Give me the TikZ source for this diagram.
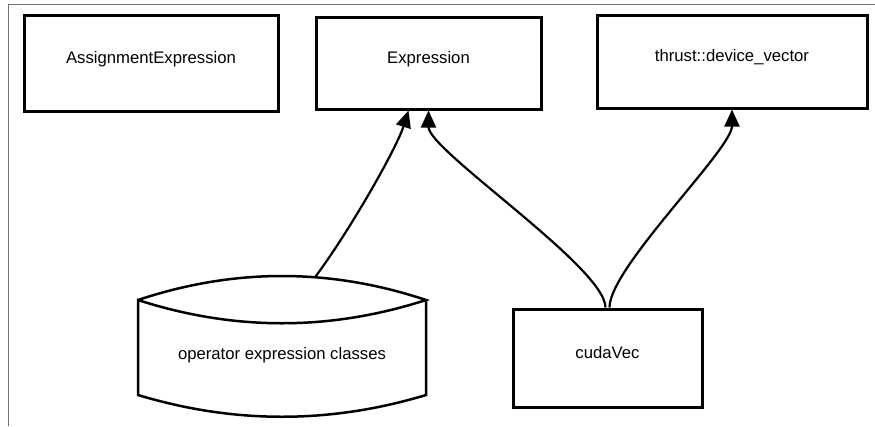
\documentclass[tikz,border=0pt]{standalone}
\usepackage{fontspec}
\setmainfont{Liberation Sans}
\usetikzlibrary{arrows.meta}

\begin{document}
\begin{tikzpicture}[x=1pt,y=-1pt,
    font=\fontsize{16.7}{20}\selectfont,
    classbox/.style={draw,line width=3pt,inner sep=0pt,text height=8pt,text depth=8pt},
    uses/.style={line width=2.2pt,-{Triangle[length=17pt,width=15pt]}},
    storeline/.style={line width=2.5pt,line join=miter}]
    \useasboundingbox (0,0) rectangle (875,426);
    \draw[black!55,line width=1pt] (8,426) -- (8,4) -- (875,4);

    \node[classbox,minimum width=254pt,minimum height=96pt] (assign) at (151,63) {AssignmentExpression};
    \node[classbox,minimum width=225pt,minimum height=92pt] (expr) at (428.5,63) {Expression};
    \node[classbox,minimum width=270pt,minimum height=93pt] (thrust) at (732,61.5) {thrust::device\_vector};
    \node[classbox,minimum width=189pt,minimum height=98pt] (cuda) at (607.5,358) {cudaVec};

    % storage shape for the operator classes
    \draw[storeline] (138,300) .. controls (234,268) and (330,268) .. (426,300)
        .. controls (330,331) and (234,331) .. (138,300) -- (138,395)
        .. controls (234,424) and (330,424) .. (426,395) -- (426,300);
    \node[anchor=base] (opc) at (282,359) {operator expression classes};
    \coordinate (opctop) at (315,277.3);

    \draw[uses] (opctop) .. controls +(35,-47) and +(-12,38) .. ([xshift=-20pt]expr.south);
    \draw[uses] ([xshift=-2pt]cuda.north) .. controls +(0,-40) and +(0,40) .. (expr.south);
    \draw[uses] ([xshift=2pt]cuda.north) .. controls +(0,-40) and +(0,40) .. (thrust.south);
\end{tikzpicture}
\end{document}
